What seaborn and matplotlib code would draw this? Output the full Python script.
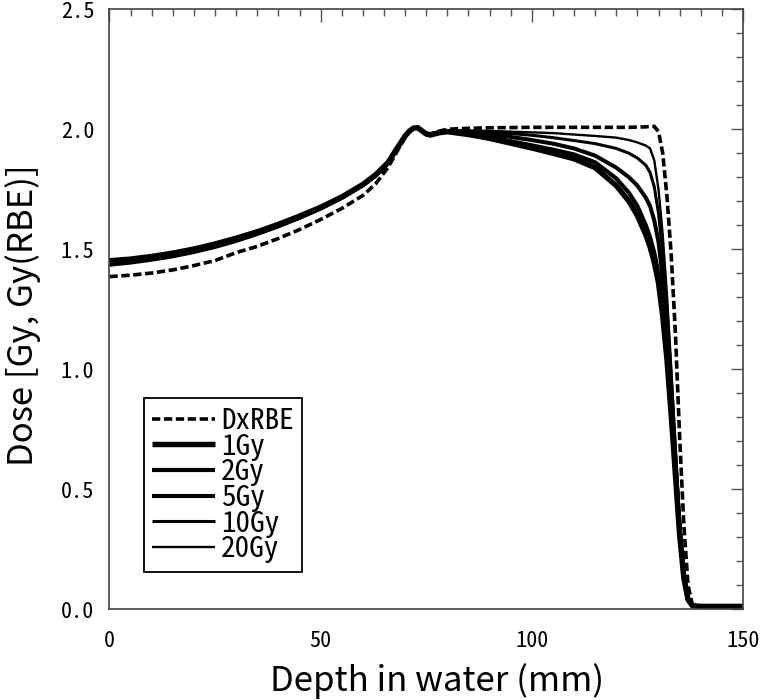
import matplotlib
matplotlib.use("Agg")
import matplotlib.pyplot as plt
import seaborn as sns
from matplotlib.ticker import MultipleLocator

# depth grid (mm) shared by all curves
depth = [0, 5, 10, 15, 20, 25, 30, 35, 40, 45, 50, 55, 60, 63, 66, 68, 70, 71, 72, 73,
         74, 75, 76, 78, 80, 85, 90, 95, 100, 105, 110, 115, 120, 123, 125, 127, 128, 129,
         130, 131, 132, 133, 134, 135, 136, 137, 138, 140, 145, 150]

dose_dxrbe = [1.386, 1.392, 1.401, 1.414, 1.432, 1.453, 1.486, 1.512, 1.545, 1.582, 1.624,
              1.670, 1.724, 1.772, 1.842, 1.905, 1.965, 1.990, 2.006, 2.009, 1.996, 1.984,
              1.981, 1.992, 2.000, 2.004, 2.006, 2.007, 2.008, 2.008, 2.008, 2.008, 2.008,
              2.008, 2.009, 2.010, 2.012, 2.012, 1.990, 1.900, 1.720, 1.480, 1.150, 0.720,
              0.350, 0.100, 0.020, 0.012, 0.012, 0.012]

dose_1gy = [1.452, 1.459, 1.470, 1.484, 1.501, 1.522, 1.546, 1.573, 1.604, 1.638, 1.675,
            1.718, 1.770, 1.810, 1.862, 1.918, 1.972, 1.992, 2.005, 2.006, 1.993, 1.980,
            1.976, 1.985, 1.990, 1.978, 1.962, 1.942, 1.922, 1.900, 1.877, 1.840, 1.765,
            1.700, 1.640, 1.560, 1.510, 1.445, 1.360, 1.220, 1.040, 0.810, 0.560, 0.310,
            0.130, 0.040, 0.015, 0.012, 0.012, 0.012]

dose_2gy = [1.447, 1.455, 1.466, 1.480, 1.497, 1.518, 1.542, 1.570, 1.601, 1.635, 1.673,
            1.716, 1.768, 1.808, 1.861, 1.917, 1.971, 1.991, 2.005, 2.006, 1.993, 1.981,
            1.977, 1.986, 1.991, 1.982, 1.968, 1.950, 1.933, 1.915, 1.895, 1.862, 1.795,
            1.735, 1.680, 1.600, 1.550, 1.485, 1.400, 1.260, 1.070, 0.840, 0.580, 0.320,
            0.135, 0.042, 0.015, 0.012, 0.012, 0.012]

dose_5gy = [1.442, 1.450, 1.461, 1.475, 1.493, 1.514, 1.538, 1.566, 1.598, 1.632, 1.670,
            1.714, 1.766, 1.806, 1.860, 1.916, 1.970, 1.991, 2.005, 2.006, 1.994, 1.982,
            1.978, 1.988, 1.993, 1.988, 1.980, 1.968, 1.955, 1.940, 1.920, 1.890, 1.840,
            1.800, 1.765, 1.715, 1.680, 1.620, 1.530, 1.380, 1.160, 0.900, 0.620, 0.340,
            0.140, 0.045, 0.015, 0.012, 0.012, 0.012]

dose_10gy = [1.437, 1.446, 1.457, 1.471, 1.489, 1.510, 1.535, 1.563, 1.595, 1.630, 1.668,
             1.712, 1.765, 1.805, 1.859, 1.915, 1.970, 1.991, 2.005, 2.006, 1.994, 1.983,
             1.979, 1.989, 1.994, 1.992, 1.988, 1.982, 1.975, 1.965, 1.953, 1.940, 1.920,
             1.900, 1.880, 1.850, 1.820, 1.760, 1.650, 1.480, 1.250, 0.970, 0.660, 0.360,
             0.150, 0.050, 0.016, 0.012, 0.012, 0.012]

dose_20gy = [1.432, 1.441, 1.453, 1.467, 1.485, 1.506, 1.531, 1.560, 1.592, 1.627, 1.666,
             1.710, 1.764, 1.804, 1.858, 1.914, 1.969, 1.990, 2.005, 2.006, 1.995, 1.984,
             1.980, 1.990, 1.995, 1.995, 1.993, 1.990, 1.987, 1.984, 1.978, 1.972, 1.965,
             1.955, 1.945, 1.932, 1.920, 1.870, 1.750, 1.560, 1.310, 1.010, 0.700, 0.390,
             0.160, 0.050, 0.016, 0.012, 0.012, 0.012]

xticks = [0, 50, 100, 150]
yticks = [0.0, 0.5, 1.0, 1.5, 2.0, 2.5]

sns.set_style("white")
plt.rcParams['font.family'] = ['Noto Sans CJK JP', 'DejaVu Sans']
plt.rcParams['text.color'] = 'black'
plt.rcParams['axes.labelcolor'] = 'black'
mono = ['Noto Sans Mono CJK JP', 'DejaVu Sans Mono']

fig = plt.figure(figsize=(7.6, 7.0), dpi=100)
ax = fig.add_axes([0.144, 0.1296, 0.8336, 0.8572])

# solid curves, thickest for 1Gy
solid = [("1Gy", dose_1gy, 3.9), ("2Gy", dose_2gy, 3.0), ("5Gy", dose_5gy, 2.9),
         ("10Gy", dose_10gy, 2.2), ("20Gy", dose_20gy, 1.7)]
for name, vals, lw in solid:
    sns.lineplot(x=depth, y=vals, ax=ax, color="black", linewidth=lw, label=name,
                 solid_capstyle="butt")
sns.lineplot(x=depth, y=dose_dxrbe, ax=ax, color="black", linewidth=2.6,
             linestyle=(0, (2.3, 1.0)), label="DxRBE")

ax.set_xlim(0, 150)
ax.set_ylim(0, 2.5)
ax.set_xticks(xticks)
ax.set_xticklabels([str(v) for v in xticks], fontfamily=mono, fontsize=16)
ax.set_yticks(yticks)
ax.set_yticklabels([f"{v:.1f}" for v in yticks], fontfamily=mono, fontsize=16)
ax.xaxis.set_minor_locator(MultipleLocator(5))
ax.yaxis.set_minor_locator(MultipleLocator(0.1))
ax.tick_params(which="both", direction="in", top=True, right=True, colors="#555555")
ax.tick_params(which="major", length=9, width=1.0, pad=11, labelcolor="black")
ax.tick_params(axis="x", which="major", pad=15)
ax.tick_params(which="minor", length=5, width=1.0)
for sp in ax.spines.values():
    sp.set_color("#444444")
    sp.set_linewidth(1.2)

ax.set_xlabel("Depth in water (mm)", fontsize=25)
ax.set_ylabel("Dose [Gy, Gy(RBE)]", fontsize=25)
ax.xaxis.set_label_coords(0.517, -0.09)
ax.yaxis.set_label_coords(-0.108, 0.49)

handles, labels = ax.get_legend_handles_labels()
order = [5, 0, 1, 2, 3, 4]
leg = ax.legend([handles[i] for i in order], [labels[i] for i in order],
                loc="lower left", bbox_to_anchor=(0.054, 0.062), borderaxespad=0,
                prop={"family": mono, "size": 21},
                handlelength=2.15, handletextpad=0.2, labelspacing=-0.08,
                borderpad=0.3, fancybox=False, frameon=True)
leg.get_frame().set_edgecolor("black")
leg.get_frame().set_linewidth(1.3)
leg.get_frame().set_alpha(1)

fig.savefig("out.png", dpi=100)
